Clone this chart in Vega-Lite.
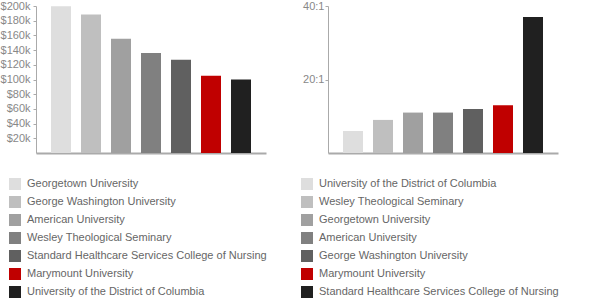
{
  "$schema": "https://vega.github.io/schema/vega-lite/v6.json",
  "padding": 0,
  "background": "white",
  "config": {
    "view": {"stroke": null},
    "font": "Liberation Sans",
    "axis": {"labelFont": "Liberation Sans", "labelFontSize": 11, "labelColor": "#888888", "domainColor": "#aaaaaa", "tickColor": "#aaaaaa", "grid": false, "title": null},
    "legend": {"labelFont": "Liberation Sans", "labelFontSize": 11, "labelColor": "#666666", "symbolType": "square", "symbolSize": 144, "symbolStrokeWidth": 0, "symbolOpacity": 1, "labelOffset": 6, "rowPadding": 6, "padding": 0, "labelLimit": 400, "title": null}
  },
  "spacing": 62,
  "bounds": "flush",
  "resolve": {"scale": {"color": "independent", "y": "independent"}, "legend": {"color": "independent"}},
  "hconcat": [
    {
      "width": 230,
      "height": 147,
      "data": {"values": [
        {"school": "Georgetown University", "salary": 199500},
        {"school": "George Washington University", "salary": 188500},
        {"school": "American University", "salary": 155500},
        {"school": "Wesley Theological Seminary", "salary": 136000},
        {"school": "Standard Healthcare Services College of Nursing", "salary": 127000},
        {"school": "Marymount University", "salary": 105000},
        {"school": "University of the District of Columbia", "salary": 100000}
      ]},
      "mark": {"type": "bar"},
      "encoding": {
        "x": {"field": "school", "type": "nominal", "sort": null,
              "scale": {"paddingInner": 0.3333, "paddingOuter": 0.5},
              "axis": {"labels": false, "ticks": false, "domainWidth": 2, "title": null}},
        "y": {"field": "salary", "type": "quantitative",
              "scale": {"domain": [0, 200000], "nice": false},
              "axis": {"values": [20000, 40000, 60000, 80000, 100000, 120000, 140000, 160000, 180000, 200000], "labelExpr": "'$' + datum.value/1000 + 'k'", "tickSize": 3, "labelPadding": 3}},
        "color": {"field": "school", "type": "nominal",
                  "scale": {"domain": ["Georgetown University", "George Washington University", "American University", "Wesley Theological Seminary", "Standard Healthcare Services College of Nursing", "Marymount University", "University of the District of Columbia"],
                            "range": ["#dedede", "#bfbfbf", "#a0a0a0", "#808080", "#606060", "#c00000", "#202020"]},
                  "legend": {"orient": "none", "legendX": -27, "legendY": 172}}
      }
    },
    {
      "width": 230,
      "height": 147,
      "data": {"values": [
        {"school": "University of the District of Columbia", "ratio": 6},
        {"school": "Wesley Theological Seminary", "ratio": 9},
        {"school": "Georgetown University", "ratio": 11},
        {"school": "American University", "ratio": 11},
        {"school": "George Washington University", "ratio": 12},
        {"school": "Marymount University", "ratio": 13},
        {"school": "Standard Healthcare Services College of Nursing", "ratio": 37}
      ]},
      "mark": {"type": "bar"},
      "encoding": {
        "x": {"field": "school", "type": "nominal", "sort": null,
              "scale": {"paddingInner": 0.3333, "paddingOuter": 0.5},
              "axis": {"labels": false, "ticks": false, "domainWidth": 2, "title": null}},
        "y": {"field": "ratio", "type": "quantitative",
              "scale": {"domain": [0, 40], "nice": false},
              "axis": {"values": [20, 40], "labelExpr": "datum.value + ':1'", "tickSize": 3, "labelPadding": 1}},
        "color": {"field": "school", "type": "nominal",
                  "scale": {"domain": ["University of the District of Columbia", "Wesley Theological Seminary", "Georgetown University", "American University", "George Washington University", "Marymount University", "Standard Healthcare Services College of Nursing"],
                            "range": ["#dedede", "#bfbfbf", "#a0a0a0", "#808080", "#606060", "#c00000", "#202020"]},
                  "legend": {"orient": "none", "legendX": -27, "legendY": 172}}
      }
    }
  ]
}
